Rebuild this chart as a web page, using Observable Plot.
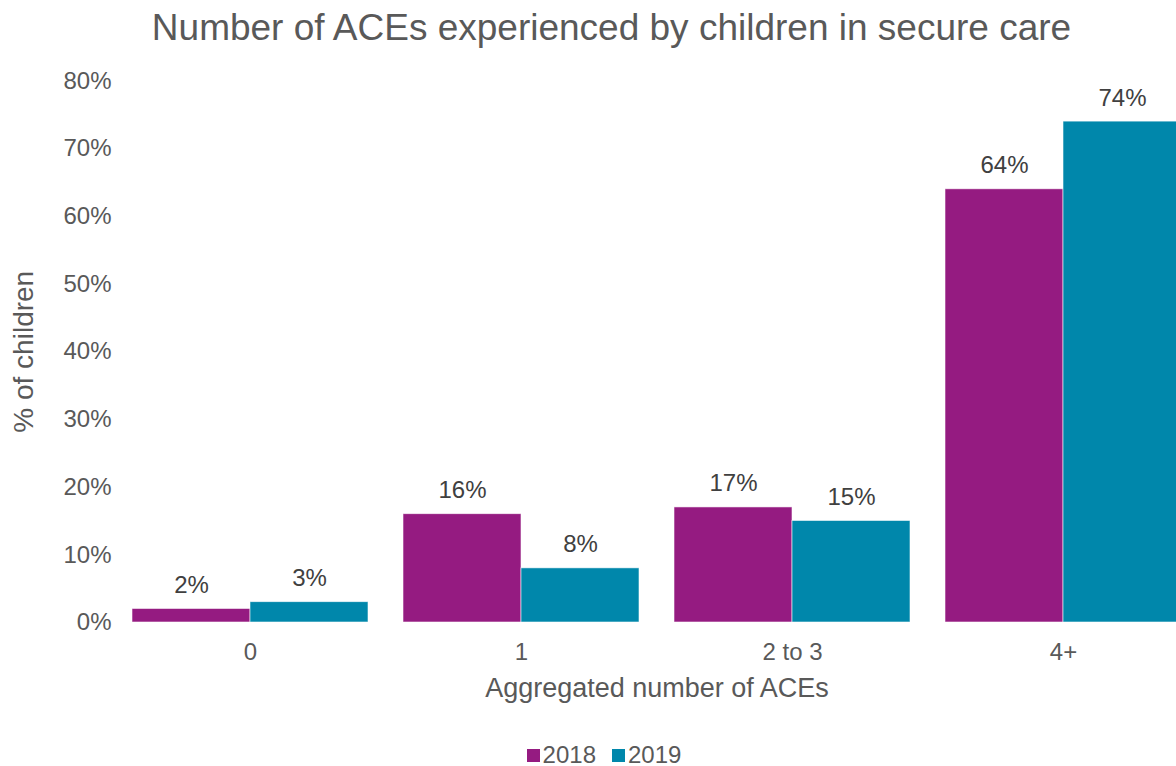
<!DOCTYPE html>
<html>
<head>
<meta charset="utf-8">
<script src="https://cdn.jsdelivr.net/npm/d3@7"></script>
<script src="https://cdn.jsdelivr.net/npm/@observablehq/plot@0.6"></script>
<style>
  html, body { margin: 0; padding: 0; background: #fff; overflow: hidden; }
  body { width: 1176px; height: 766px; font-family: "Liberation Sans", Arial, sans-serif; }
  #title { height: 56px; line-height: 56px; font-size: 37px; color: #595959; text-align: center; padding-left: 47px; box-sizing: border-box; width: 1176px; white-space: nowrap; }
  #legend { display: flex; justify-content: center; align-items: center; padding-left: 32px; box-sizing: border-box; width: 1176px; height: 50px; margin-top: 14px; font-size: 24px; color: #595959; }
  .item { display: flex; align-items: center; margin: 0 8px; }
  .sw { width: 13px; height: 13px; margin-right: 3px; }
</style>
</head>
<body>
<div id="title">Number of ACEs experienced by children in secure care</div>
<div id="chart"></div>
<div id="legend"></div>
<script>
const categories = ["0", "1", "2 to 3", "4+"];
const years = ["2018", "2019"];
const values2018 = [2, 16, 17, 64];
const values2019 = [3, 8, 15, 74];
const yTicks = [0, 10, 20, 30, 40, 50, 60, 70, 80];
const colors = ["#951B81", "#0087AB"];
const xTitle = "Aggregated number of ACEs";
const yTitle = "% of children";

const rows = [];
categories.forEach((c, i) => {
  rows.push({cat: c, year: years[0], value: values2018[i]});
  rows.push({cat: c, year: years[1], value: values2019[i]});
});

const chart = Plot.plot({
  width: 1176,
  height: 660,
  marginTop: 24.5,
  marginBottom: 94,
  marginLeft: 113,
  marginRight: 0,
  style: {fontFamily: "'Liberation Sans', Arial, sans-serif", fontSize: "24px", color: "#595959", background: "white"},
  fx: {domain: categories, range: [113.3, 1199], paddingInner: 0.13, paddingOuter: 0.065, label: null},
  x: {domain: years, padding: 0, axis: null},
  y: {domain: [0, 80], label: null},
  color: {domain: years, range: colors},
  marks: [
    Plot.barY(rows, {fx: "cat", x: "year", y: "value", fill: "year", stroke: "white", strokeWidth: 0.8, strokeOpacity: 0.7}),
    Plot.text(rows, {fx: "cat", x: "year", y: "value", text: d => d.value + "%", lineAnchor: "bottom", dy: -16, fill: "#404040", fontSize: 24}),
    Plot.axisY(yTicks, {tickSize: 0, tickPadding: 21, tickFormat: d => d + "%", label: null, fontSize: 24}),
    Plot.axisFx({anchor: "bottom", tickSize: 0, tickPadding: 20, label: null, fontSize: 24}),
    Plot.text([xTitle], {facet: "super", frameAnchor: "bottom", textAnchor: "middle", lineAnchor: "bottom", dy: 74, text: d => d, fontSize: 27, fill: "#595959"}),
    Plot.text([yTitle], {facet: "super", frameAnchor: "left", textAnchor: "middle", rotate: -90, lineAnchor: "middle", dx: -108, text: d => d, fontSize: 28, fill: "#595959"})
  ]
});
document.getElementById("chart").appendChild(chart);

const legend = document.getElementById("legend");
years.forEach((y, i) => {
  const item = document.createElement("div");
  item.className = "item";
  const sw = document.createElement("div");
  sw.className = "sw";
  sw.style.background = colors[i];
  const t = document.createElement("span");
  t.textContent = y;
  item.appendChild(sw);
  item.appendChild(t);
  legend.appendChild(item);
});
</script>
</body>
</html>
